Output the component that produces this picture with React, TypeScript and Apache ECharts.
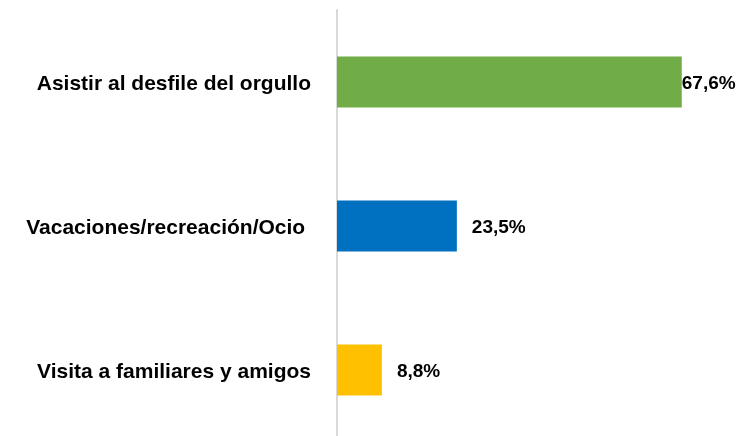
import React, { useEffect, useRef } from "react";
import * as echarts from "echarts";

const categories = [
  "Asistir al desfile del orgullo",
  "Vacaciones/recreación/Ocio ",
  "Visita a familiares y amigos",
];
const values = [67.6, 23.5, 8.8];
const colors = ["#70AD47", "#0070C0", "#FFC000"];
const labelDistances = [0, 15, 15];

const FONT = '"Liberation Sans Narrow", "Arial Narrow", "Liberation Sans", Arial, sans-serif';

export default function App() {
  const ref = useRef<HTMLDivElement>(null);
  useEffect(() => {
    if (!ref.current) return;
    const chart = echarts.init(ref.current, null, { renderer: "svg" });
    chart.setOption({
      animation: false,
      grid: { left: 337, right: 44, top: 10, height: 432, containLabel: false },
      xAxis: {
        type: "value",
        min: 0,
        max: 70,
        show: false,
      },
      yAxis: {
        type: "category",
        inverse: true,
        data: categories,
        axisLine: { show: true, lineStyle: { color: "#d9d9d9", width: 2 } },
        axisTick: { show: false },
        axisLabel: {
          margin: 26,
          color: "#000",
          fontFamily: FONT,
          fontWeight: "bold",
          fontSize: 21,
        },
      },
      series: [
        {
          type: "bar",
          barWidth: 51,
          data: values.map((v, i) => ({
            value: v,
            itemStyle: { color: colors[i] },
            label: { distance: labelDistances[i] },
          })),
          label: {
            show: true,
            position: "right",
            color: "#000",
            fontFamily: FONT,
            fontWeight: "bold",
            fontSize: 19,
            formatter: (p: any) => p.value.toFixed(1).replace(".", ",") + "%",
          },
        },
      ],
    });
    return () => chart.dispose();
  }, []);
  return (
    <div
      ref={ref}
      style={{ position: "fixed", left: 0, top: 0, width: 738, height: 446 }}
    />
  );
}
